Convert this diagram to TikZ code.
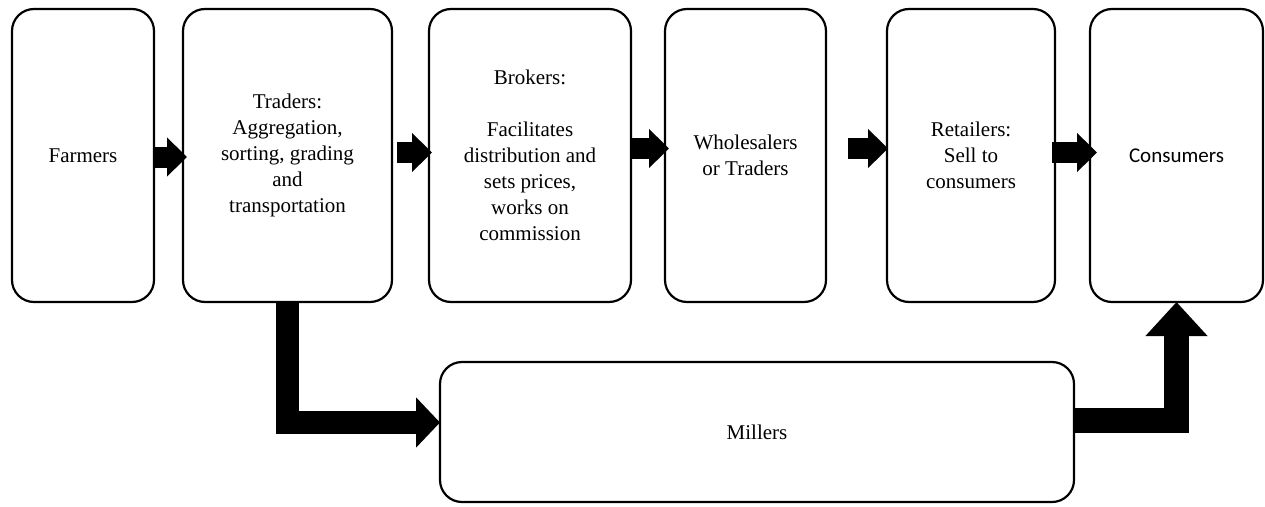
\documentclass[tikz,border=0pt]{standalone}
\usepackage{fontspec}
\setmainfont{Liberation Serif}
\newfontfamily\carlito{Carlito}
\usetikzlibrary{positioning, arrows.meta}

\begin{document}
\begin{tikzpicture}[
    x=1pt, y=-1pt,
    font=\fontsize{21}{26}\selectfont,
    stage/.style={rectangle, rounded corners=22pt, draw, line width=2.2pt, align=center,
        minimum height=293pt, inner sep=0pt, outer sep=0pt},
    blockarrow/.style={line width=21pt, -{Triangle[length=20pt, width=38pt]}}]

    \useasboundingbox (0,0) rectangle (1265,506);

    \node[stage, minimum width=142pt, anchor=north west] (farmers) at (12,9) {Farmers};
    \node[stage, minimum width=209pt, right=29pt of farmers] (traders) {Traders:\\ Aggregation,\\ sorting, grading\\ and\\ transportation};
    \node[stage, minimum width=202pt, right=37pt of traders] (brokers) {Brokers:\\[26pt] Facilitates\\ distribution and\\ sets prices,\\ works on\\ commission};
    \node[stage, minimum width=161pt, right=34pt of brokers] (wholesalers) {Wholesalers\\ or Traders};
    \node[stage, minimum width=168pt, right=61pt of wholesalers] (retailers) {Retailers:\\ Sell to\\ consumers};
    \node[stage, minimum width=173pt, right=35pt of retailers, font=\carlito\fontsize{21}{26}\selectfont] (consumers) {Consumers};
    \node[stage, minimum width=634pt, minimum height=140pt, anchor=north west] (millers) at (440,362) {Millers};

    \draw[blockarrow] ([yshift=-1.5pt]farmers.east) -- ([xshift=4pt, yshift=-1.5pt]traders.west);
    \draw[blockarrow] ([xshift=5pt, yshift=3pt]traders.east) -- ([xshift=3pt, yshift=3pt]brokers.west);
    \draw[blockarrow] ([yshift=7pt]brokers.east) -- ([xshift=4pt, yshift=7pt]wholesalers.west);
    \draw[blockarrow] ([xshift=22pt, yshift=7pt]wholesalers.east) -- ([xshift=1pt, yshift=7pt]retailers.west);
    \draw[blockarrow] ([xshift=-3pt, yshift=3pt]retailers.east) -- ([xshift=7pt, yshift=3pt]consumers.west);

    % side route through the millers
    \draw[line width=23pt, -{Triangle[length=24pt, width=49pt]}] (traders.south) |- ([yshift=9.5pt]millers.west);
    \draw[line width=25pt, -{Triangle[length=34pt, width=60pt]}] ([yshift=11.5pt]millers.east) -| (consumers.south);

\end{tikzpicture}
\end{document}
